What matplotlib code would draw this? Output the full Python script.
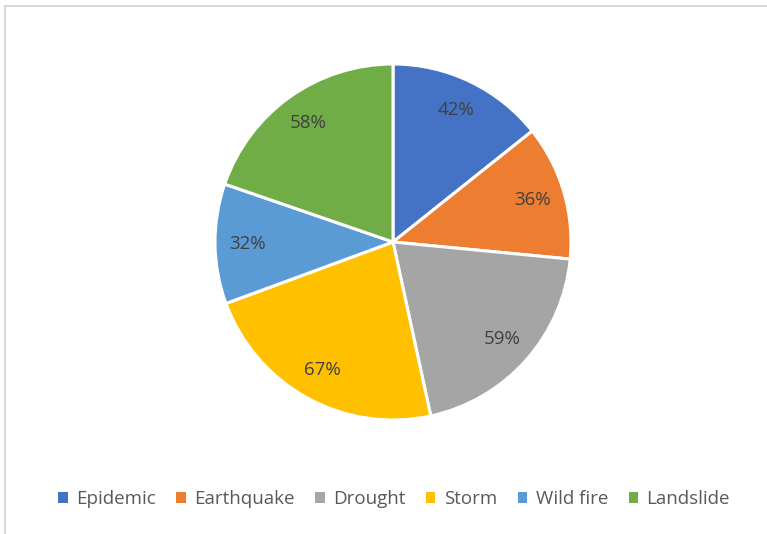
import matplotlib.pyplot as plt
from matplotlib.patches import Patch
from matplotlib.lines import Line2D

categories = ["Epidemic", "Earthquake", "Drought", "Storm", "Wild fire", "Landslide"]
values = [42, 36, 59, 67, 32, 58]
colors = ["#4472C4", "#ED7D31", "#A5A5A5", "#FFC000", "#5B9BD5", "#70AD47"]

plt.rcParams['font.family'] = ['Open Sans', 'DejaVu Sans']

W, H = 767, 534
fig = plt.figure(figsize=(W / 100, H / 100), dpi=100)

# pie centred at (393, 242) px, radius 178 px
cx, cy, r = 393, 242, 178
ax = fig.add_axes([(cx - r) / W, (H - cy - r) / H, 2 * r / W, 2 * r / H])

total = sum(values)
wedges, texts, autotexts = ax.pie(
    values, colors=colors, startangle=90, counterclock=False,
    autopct=lambda p: f"{round(p * total / 100)}%", pctdistance=0.82,
    wedgeprops=dict(edgecolor="white", linewidth=2.2),
    textprops=dict(color="#404040", fontsize=13.5))
ax.set_xlim(-1, 1)
ax.set_ylim(-1, 1)
ax.set_aspect("equal")
ax.axis("off")

handles = [Patch(facecolor=c, edgecolor="none") for c in colors]
fig.legend(handles, categories, loc="center", ncol=6,
           bbox_to_anchor=(394 / W, 1 - 499 / H), frameon=False,
           handlelength=0.5, handleheight=0.5, handletextpad=0.45,
           columnspacing=1.1, fontsize=13.5, labelcolor="#595959")

# chart area border (top and left only visible)
fig.add_artist(Line2D([5 / W, 1], [1 - 6 / H, 1 - 6 / H], color="#d9d9d9", lw=1.5))
fig.add_artist(Line2D([5 / W, 5 / W], [0, 1 - 6 / H], color="#d9d9d9", lw=1.5))

fig.savefig("out.png", dpi=100)
